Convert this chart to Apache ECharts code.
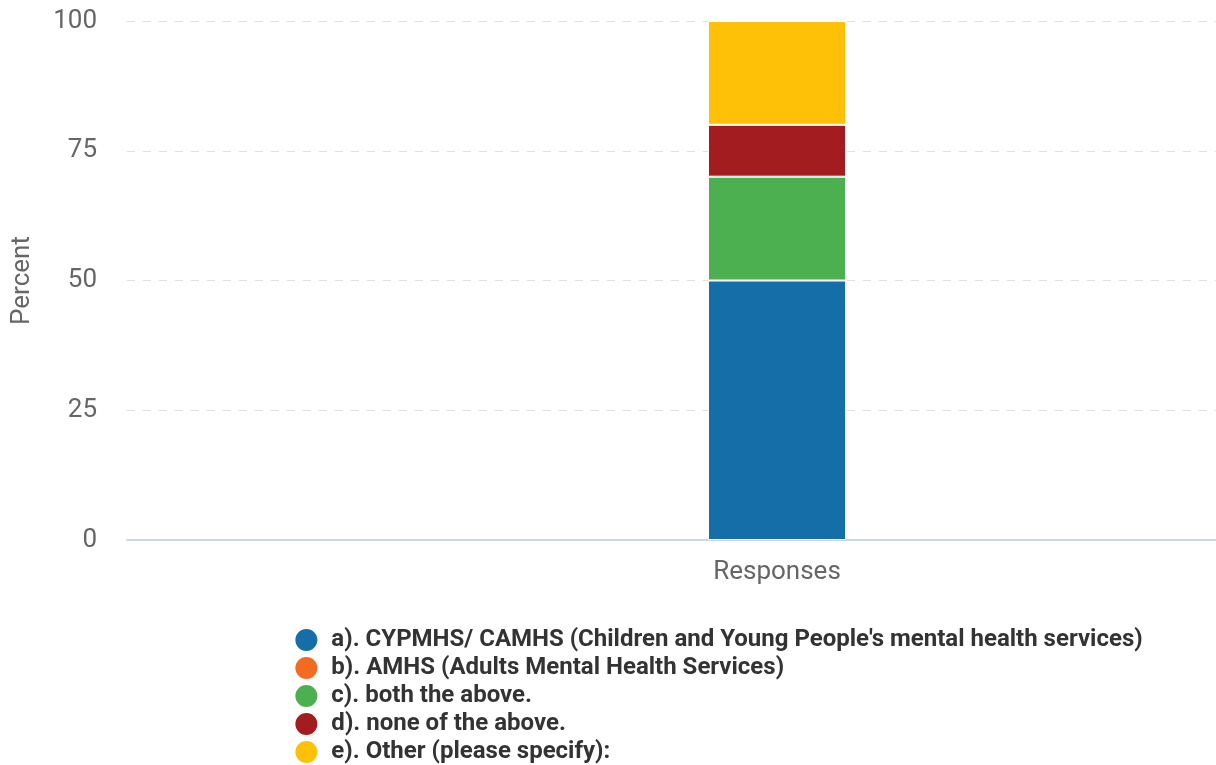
<!DOCTYPE html>
<html>
<head>
<meta charset="utf-8">
<style>
html,body{margin:0;padding:0;overflow:hidden;background:#fff;}
#c{width:1436px;height:765px;}
</style>
<script src="https://cdn.jsdelivr.net/npm/echarts@6/dist/echarts.min.js"></script>
</head>
<body>
<div id="c"></div>
<script>
const categories = ['Responses'];
const seriesNames = [
  "a). CYPMHS/ CAMHS (Children and Young People's mental health services)",
  "b). AMHS (Adults Mental Health Services)",
  "c). both the above.",
  "d). none of the above.",
  "e). Other (please specify):"
];
const seriesValues = [[50],[0],[20],[10],[20]];
const colors = ['#156ea8','#f26b21','#4caf50','#a31c1f','#ffc107'];
const yTicks = [0,25,50,75,100];

const chart = echarts.init(document.getElementById('c'));
chart.setOption({
  animation:false,
  color:colors,
  textStyle:{fontFamily:'Roboto'},
  grid:{left:127,right:9,top:21,bottom:225},
  legend:{
    orient:'vertical', left:'center', top:622, height:160,
    icon:'circle', itemWidth:24, itemHeight:24, itemGap:2,
    textStyle:{fontFamily:'Roboto',fontWeight:'bold',fontSize:24,color:'#333',padding:[0,0,0,8]},
    data:seriesNames
  },
  xAxis:{
    type:'category', data:categories,
    axisLine:{lineStyle:{color:'#ccd6eb',width:2}},
    axisTick:{show:false},
    axisLabel:{fontFamily:'Roboto',fontSize:26,color:'#666',margin:19}
  },
  yAxis:{
    type:'value', min:yTicks[0], max:yTicks[yTicks.length-1], interval:25,
    name:'Percent', nameLocation:'middle', nameGap:92,
    nameTextStyle:{fontFamily:'Roboto',fontSize:26,color:'#666'},
    axisLabel:{fontFamily:'Roboto',fontSize:26,color:'#666',margin:30},
    splitLine:{lineStyle:{color:'#e0e0e0',type:[8,8],width:1}},
    axisLine:{show:false}, axisTick:{show:false}
  },
  series: seriesNames.map((n,i)=>({
    name:n, type:'bar', stack:'s', barWidth:138,
    data:seriesValues[i],
    itemStyle:{color:colors[i],borderColor:'#fff',borderWidth:1}
  }))
});
</script>
</body>
</html>
